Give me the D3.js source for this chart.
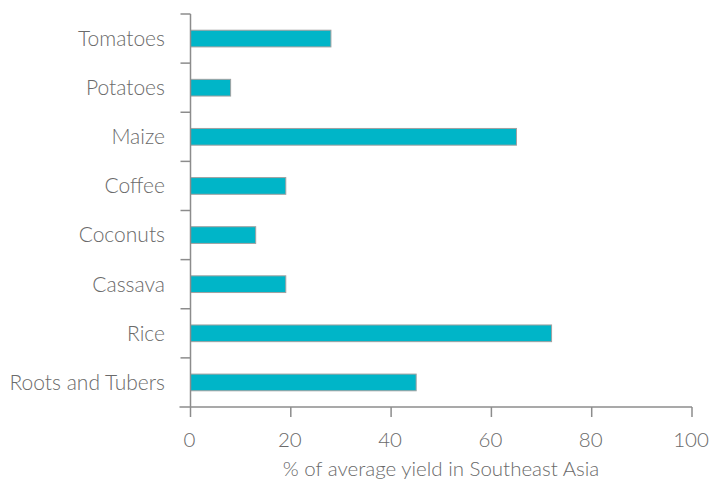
<!DOCTYPE html>
<html><head><meta charset="utf-8">
<script src="https://cdn.jsdelivr.net/npm/d3@7"></script>
<style>body{margin:0;background:#fff}svg{display:block}</style>
</head><body><svg id="c" width="712" height="485"></svg>
<script>
const categories = ["Tomatoes","Potatoes","Maize","Coffee","Coconuts","Cassava","Rice","Roots and Tubers"];
const values = [28, 8, 65, 19, 13, 19, 72, 45];
const xTicks = [0, 20, 40, 60, 80, 100];
const xLabel = "% of average yield in Southeast Asia";

(function(){
const svg = d3.select("#c");
const mL = 190.5, mR = 692, mT = 14, mB = 407;
const font = "Lato, sans-serif";
const textColor = "#6a6a6a", axisColor = "#8c8c8c";

const x = d3.scaleLinear().domain([0, 100]).range([mL, mR]);
const y = d3.scaleBand().domain(categories).range([mT, mB]).paddingInner(0.66).paddingOuter(0.33);
const yb = d3.scaleBand().domain(categories).range([mT, mB]);

svg.append("g").selectAll("rect").data(categories).join("rect")
  .attr("x", x(0)).attr("y", d => y(d))
  .attr("width", (d,i) => x(values[i]) - x(0))
  .attr("height", y.bandwidth())
  .attr("fill", "#00b5c8").attr("stroke", "#a0a0a0").attr("stroke-width", 1);

const ya = svg.append("g");
ya.append("line").attr("x1", mL).attr("x2", mL).attr("y1", mT).attr("y2", mB).attr("stroke", axisColor).attr("stroke-width", 1.5);
ya.selectAll("line.t").data(categories).join("line").attr("class","t")
  .attr("x1", mL - 10).attr("x2", mL).attr("y1", d => yb(d)).attr("y2", d => yb(d))
  .attr("stroke", axisColor).attr("stroke-width", 1.5);
ya.selectAll("text").data(categories).join("text")
  .attr("x", mL - 25.5).attr("y", d => yb(d) + yb.bandwidth()/2).attr("dy", "0.35em")
  .attr("text-anchor", "end").attr("font-family", font).attr("font-weight", 300).attr("font-size", 21).attr("fill", textColor).text(d => d);

const xa = svg.append("g");
xa.append("line").attr("x1", mL - 11).attr("x2", mR).attr("y1", mB).attr("y2", mB).attr("stroke", axisColor).attr("stroke-width", 1.5);
xa.selectAll("line.t").data(xTicks).join("line").attr("class","t")
  .attr("x1", d => x(d)).attr("x2", d => x(d)).attr("y1", mB).attr("y2", mB + 10)
  .attr("stroke", axisColor).attr("stroke-width", 1.5);
xa.selectAll("text").data(xTicks).join("text")
  .attr("x", d => x(d) - 1).attr("y", 447).attr("text-anchor", "middle")
  .attr("font-family", font).attr("font-weight", 300).attr("font-size", 20.5).attr("fill", textColor).text(d => d);

svg.append("text").attr("x", 441).attr("y", 476).attr("text-anchor", "middle")
  .attr("font-family", font).attr("font-weight", 300).attr("font-size", 20.5).attr("fill", textColor).text(xLabel);
})();
</script></body></html>
